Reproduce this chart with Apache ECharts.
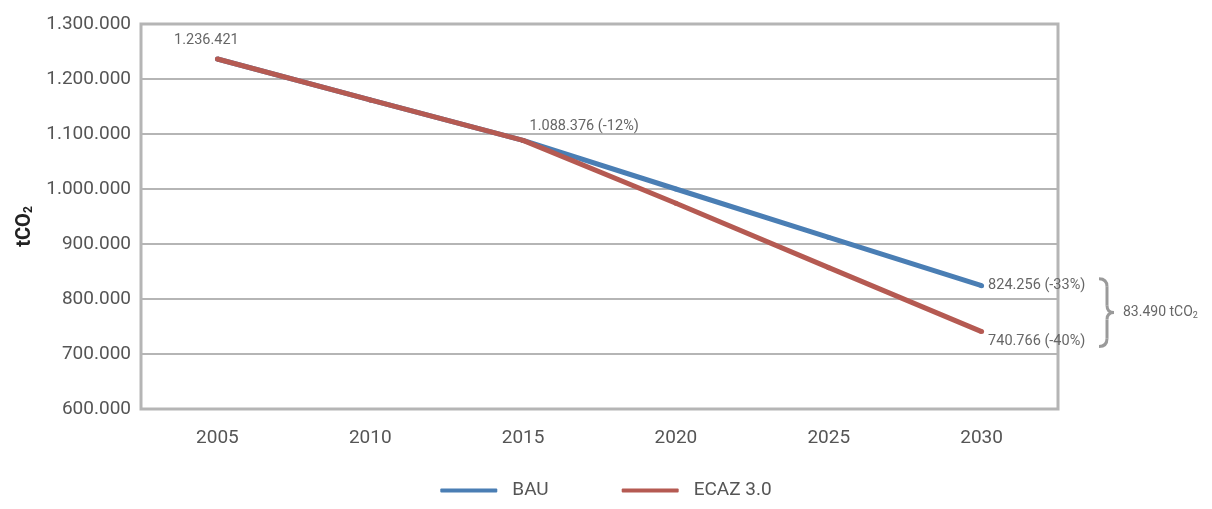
<!DOCTYPE html>
<html>
<head>
<meta charset="utf-8">
<script src="https://cdn.jsdelivr.net/npm/echarts@6/dist/echarts.min.js"></script>
<style>
  html, body { margin: 0; padding: 0; background: #fff; }
  #chart { width: 1212px; height: 509px; }
</style>
</head>
<body>
<div id="chart"></div>
<script>
    // values
    const years = ['2005', '2010', '2015', '2020', '2025', '2030'];
    const bau = [1236421, 1162000, 1088376, 1000000, 912000, 824256];
    const ecaz = [1236421, 1162000, 1088376, 974000, 857000, 740766];
    const seriesNames = ['BAU', 'ECAZ 3.0'];
    const colors = ['#4a7eb4', '#b55a52'];

    const fmt = (v) => String(Math.round(v)).replace(/\B(?=(\d{3})+(?!\d))/g, '.');
    const pct = (v) => Math.round((v / bau[0] - 1) * 100) + '%';

    const labelStyle = { show: true, color: '#666', fontSize: 14.5, fontFamily: 'Roboto' };

    // only a few points carry a label
    const bauData = bau.map((v, i) => {
        if (i === 5) {
            return { value: v, label: { ...labelStyle, position: 'right', distance: 4,
                formatter: fmt(v) + ' (' + pct(v) + ')' } };
        }
        return v;
    });
    const ecazData = ecaz.map((v, i) => {
        if (i === 0) {
            return { value: v, label: { ...labelStyle, position: 'top', distance: 9, offset: [-11, 0],
                formatter: fmt(v) } };
        }
        if (i === 2) {
            return { value: v, label: { ...labelStyle, position: 'right', distance: 4, offset: [0, -14],
                formatter: fmt(v) + ' (' + pct(v) + ')' } };
        }
        if (i === 5) {
            return { value: v, label: { ...labelStyle, position: 'right', distance: 4, offset: [0, 10],
                formatter: fmt(v) + ' (' + pct(v) + ')' } };
        }
        return v;
    });

    const chart = echarts.init(document.getElementById('chart'));

    const option = {
        animation: false,
        textStyle: { fontFamily: 'Roboto' },
        grid: { left: 141, top: 24, right: 154, bottom: 100 },
        legend: {
            bottom: 4,
            left: 'center',
            icon: 'roundRect',
            itemWidth: 57,
            itemHeight: 4,
            itemGap: 73,
            textStyle: { color: '#555', fontSize: 19, padding: [0, 0, 0, 10] },
            data: seriesNames
        },
        xAxis: {
            type: 'category',
            data: years,
            boundaryGap: true,
            axisLine: { show: false },
            axisTick: { show: false },
            axisLabel: { color: '#555', fontSize: 19, margin: 20 },
            splitLine: { show: false }
        },
        yAxis: {
            type: 'value',
            min: 600000,
            max: 1300000,
            interval: 100000,
            name: '{a|tCO}{s|2}',
            nameLocation: 'middle',
            nameGap: 103,
            nameTextStyle: {
                padding: [0, 20, 0, 0],
                rich: {
                    a: { fontSize: 20, fontWeight: 'bold', color: '#222' },
                    s: { fontSize: 12, fontWeight: 'bold', color: '#222', padding: [9, 0, 0, 0] }
                }
            },
            axisLine: { show: false },
            axisTick: { show: false },
            axisLabel: { color: '#555', fontSize: 19, margin: 10, formatter: (v) => fmt(v) },
            splitLine: { lineStyle: { color: '#b5b5b5', width: 2 } }
        },
        series: [
            {
                name: seriesNames[0],
                type: 'line',
                data: bauData,
                symbol: 'circle',
                symbolSize: 5,
                itemStyle: { color: colors[0] },
                lineStyle: { color: colors[0], width: 5 },
                z: 2
            },
            {
                name: seriesNames[1],
                type: 'line',
                data: ecazData,
                symbol: 'circle',
                symbolSize: 5,
                itemStyle: { color: colors[1] },
                lineStyle: { color: colors[1], width: 5 },
                z: 3
            }
        ]
    };
    chart.setOption(option);

    // plot frame and the brace showing the 2030 gap
    const drawExtras = () => {
        const rect = chart.getModel().getComponent('grid').coordinateSystem.getRect();
        const yTop = chart.convertToPixel({ seriesIndex: 0 }, [5, bau[5]])[1];
        const yBot = chart.convertToPixel({ seriesIndex: 1 }, [5, ecaz[5]])[1];
        const t = yTop - 7, b = yBot + 15, m = (t + b) / 2;
        const x0 = 1099, xs = 1107, xt = 1114;
        const braceStyle = { fill: 'none', stroke: '#9a9a9a', lineWidth: 3 };
        const curve = (x1, y1, cx, cy, x2, y2) => ({
            type: 'bezierCurve',
            shape: { x1: x1, y1: y1, cpx1: cx, cpy1: cy, x2: x2, y2: y2 },
            style: braceStyle
        });
        const seg = (x1, y1, x2, y2) => ({
            type: 'line',
            shape: { x1: x1, y1: y1, x2: x2, y2: y2 },
            style: braceStyle
        });
        chart.setOption({
            graphic: [
                {
                    type: 'rect',
                    shape: { x: rect.x, y: rect.y, width: rect.width, height: rect.height },
                    style: { fill: 'none', stroke: '#b5b5b5', lineWidth: 3 },
                    z: 1
                },
                curve(x0, t, xs, t, xs, t + 8),
                seg(xs, t + 8, xs, m - 7),
                curve(xs, m - 7, xs, m, xt, m),
                curve(xt, m, xs, m, xs, m + 7),
                seg(xs, m + 7, xs, b - 8),
                curve(xs, b - 8, xs, b, x0, b),
                {
                    type: 'text',
                    x: 1123,
                    y: m,
                    style: {
                        text: '{a|' + fmt(bau[5] - ecaz[5]) + ' tCO}{s|2}',
                        verticalAlign: 'middle',
                        rich: {
                            a: { fontSize: 14, fill: '#666', fontFamily: 'Roboto' },
                            s: { fontSize: 9, fill: '#666', fontFamily: 'Roboto', padding: [6, 0, 0, 0] }
                        }
                    }
                }
            ]
        });
    };
    drawExtras();
</script>
</body>
</html>
